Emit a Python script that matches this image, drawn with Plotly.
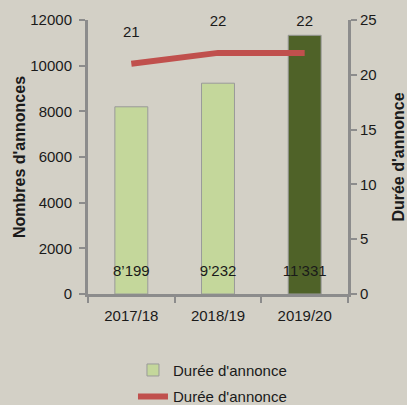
import plotly.graph_objects as go

# data
years = ["2017/18", "2018/19", "2019/20"]
annonces = [8199, 9232, 11331]
duree = [21, 22, 22]
bar_colors = ["#c4d79b", "#c4d79b", "#4f6228"]

left_ticks = [0, 2000, 4000, 6000, 8000, 10000, 12000]
right_ticks = [0, 5, 10, 15, 20, 25]

BG = "#d3d0c6"
AXIS = "#8c8c8c"
FONT = "Liberation Sans, Arial, sans-serif"
TXT = "#1a1a1a"


def fmt_swiss(v):
    return f"{v:,}".replace(",", "\u2019")


fig = go.Figure()

fig.add_trace(go.Bar(
    x=years, y=annonces,
    name="Durée d'annonce",
    marker=dict(color=bar_colors, line=dict(color="#9a9a9a", width=1)),
    width=0.38,
    legendgroup="a",
))

# value labels near the base of each bar
fig.add_trace(go.Scatter(
    x=years, y=[950] * len(years),
    mode="text",
    text=[fmt_swiss(v) for v in annonces],
    textfont=dict(size=15, color=TXT, family=FONT),
    showlegend=False, hoverinfo="skip", cliponaxis=False,
))

fig.add_trace(go.Scatter(
    x=years, y=duree,
    name="Durée d'annonce",
    mode="lines",
    line=dict(color="#c0504d", width=6),
    yaxis="y2",
    legendgroup="b",
))

# duration labels above the line
fig.add_trace(go.Scatter(
    x=years, y=[d + 2.8 for d in duree],
    mode="text",
    text=[str(d) for d in duree],
    textfont=dict(size=15, color=TXT, family=FONT),
    yaxis="y2",
    showlegend=False, hoverinfo="skip", cliponaxis=False,
))

fig.update_layout(
    width=407, height=405,
    paper_bgcolor=BG, plot_bgcolor=BG,
    margin=dict(l=88, r=59, t=20, b=111, autoexpand=False),
    font=dict(family=FONT, size=15, color=TXT),
    showlegend=True,
    legend=dict(
        x=0.173, y=-0.218, xanchor="left", yanchor="top",
        bgcolor="rgba(0,0,0,0)", traceorder="grouped", tracegroupgap=4,
        font=dict(size=15),
    ),
    xaxis=dict(
        showline=True, linecolor=AXIS, linewidth=3,
        ticks="outside", tickson="boundaries", ticklen=6, tickwidth=2, tickcolor=AXIS,
        ticklabelstandoff=6,
        showgrid=False, range=[-0.5, 2.5], automargin=False,
    ),
    yaxis=dict(
        range=[0, 12000], tickvals=left_ticks, tickformat="d",
        showgrid=False, zeroline=False, automargin=False,
        showline=True, linecolor=AXIS, linewidth=3,
        ticks="outside", ticklen=6, tickwidth=2, tickcolor=AXIS,
        ticklabelstandoff=4,
        title=dict(text="<b>Nombres d'annonces</b>", font=dict(size=16), standoff=1),
    ),
    yaxis2=dict(
        range=[0, 25], tickvals=right_ticks, overlaying="y", side="right",
        showgrid=False, zeroline=False, automargin=False,
        showline=True, linecolor=AXIS, linewidth=3,
        ticks="outside", ticklen=6, tickwidth=2, tickcolor=AXIS,
        title=dict(text="<b>Durée d'annonce</b>", font=dict(size=16), standoff=20),
    ),
)

fig.write_html("out.html", config={"displayModeBar": False},
               post_script="document.body.style.margin='0';")
